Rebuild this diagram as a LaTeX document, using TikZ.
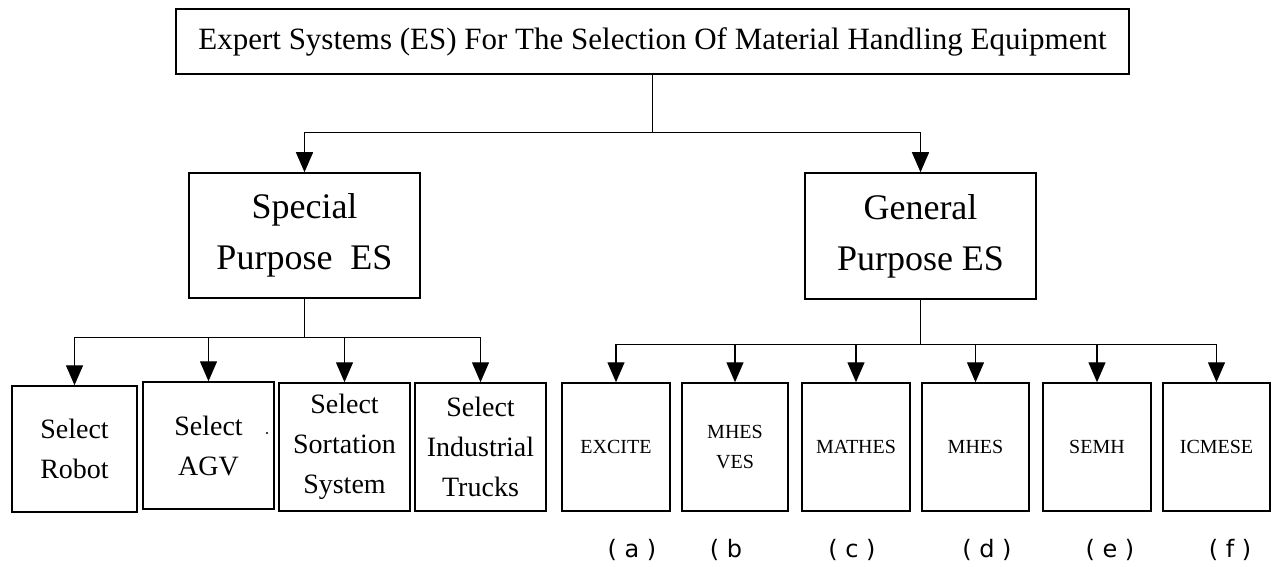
\documentclass[tikz,border=0pt]{standalone}
\usepackage{fontspec}
\setmainfont{Liberation Serif}
\newfontfamily\labelfont{DejaVu Sans}
\usetikzlibrary{arrows.meta,calc}
\begin{document}
\begin{tikzpicture}[x=1pt,y=-1pt,
  box/.style={draw, line width=1.5pt, inner sep=0pt, align=center},
  conn/.style={line width=1.4pt},
  arr/.style={conn, -{Triangle[length=20pt,width=17pt]}},
  titlefont/.style={font=\fontsize{31}{37}\selectfont},
  midfont/.style={font=\fontsize{36}{51}\selectfont},
  lowfont/.style={font=\fontsize{28}{40}\selectfont},
  smallfont/.style={font=\fontsize{20}{30}\selectfont},
  tag/.style={font=\labelfont\fontsize{24}{28}\selectfont, inner sep=0pt}
]
\useasboundingbox (0,0) rectangle (1277,567);

% root
\node[box, titlefont, minimum width=953pt, minimum height=65pt] (root) at (652.5,41.5)
  {Expert Systems (ES) For The Selection Of Material Handling Equipment};

% second level
\node[box, midfont, minimum width=231pt, minimum height=125pt] (sp) at (304.5,235.5)
  {Special\\Purpose\ \ ES};
\node[box, midfont, minimum width=231pt, minimum height=126pt] (gp) at (920.5,236)
  {General\\Purpose ES};

% special purpose systems
\node[box, lowfont, minimum width=125pt, minimum height=126pt] (robot) at (74.5,449) {Select\\Robot};
\node[box, lowfont, minimum width=131pt, minimum height=127pt] (agv) at (208.5,445.5) {Select\\AGV};
\node[box, lowfont, minimum width=131pt, minimum height=128pt] (sort) at (344.5,447) {Select\\Sortation\\System};
\node[box, lowfont, minimum width=131pt, minimum height=128pt] (ind) at (480.5,447) {Select\\Industrial\\Trucks};
\fill (267,433) circle (1.2pt);

% general purpose systems
\node[box, smallfont, minimum width=108pt, minimum height=128pt] (excite) at (616,447) {EXCITE};
\node[box, smallfont, minimum width=106pt, minimum height=128pt] (mhesves) at (735,447) {MHES\\VES};
\node[box, smallfont, minimum width=108pt, minimum height=128pt] (mathes) at (856,447) {MATHES};
\node[box, smallfont, minimum width=107pt, minimum height=128pt] (mhes) at (975.5,447) {MHES};
\node[box, smallfont, minimum width=108pt, minimum height=128pt] (semh) at (1097,447) {SEMH};
\node[box, smallfont, minimum width=107pt, minimum height=128pt] (icmese) at (1216.5,447) {ICMESE};

% tags
\node[tag] (ta) at (632,550) {( a )};
\node[tag] (tb) at (726,550) {( b};
\node[tag] (tc) at (852,550) {( c )};
\node[tag] (td) at (987,550) {( d )};
\node[tag] (te) at (1110,550) {( e )};
\node[tag] (tf) at (1230,550) {( f )};

% connectors
\coordinate (j0) at ($(root.south)+(0,58)$);
\draw[conn] (root.south) -- (j0);
\draw[arr] (j0) -| (sp.north);
\draw[arr] (j0) -| (gp.north);

\coordinate (j1) at ($(sp.south)+(0,39)$);
\draw[conn] (sp.south) -- (j1);
\foreach \c in {robot,agv,sort,ind} \draw[arr] (j1) -| (\c.north);

\coordinate (j2) at ($(gp.south)+(0,45)$);
\draw[conn] (gp.south) -- (j2);
\foreach \c in {excite,mhesves,mathes,mhes,semh,icmese} \draw[arr] (j2) -| (\c.north);
\end{tikzpicture}
\end{document}
